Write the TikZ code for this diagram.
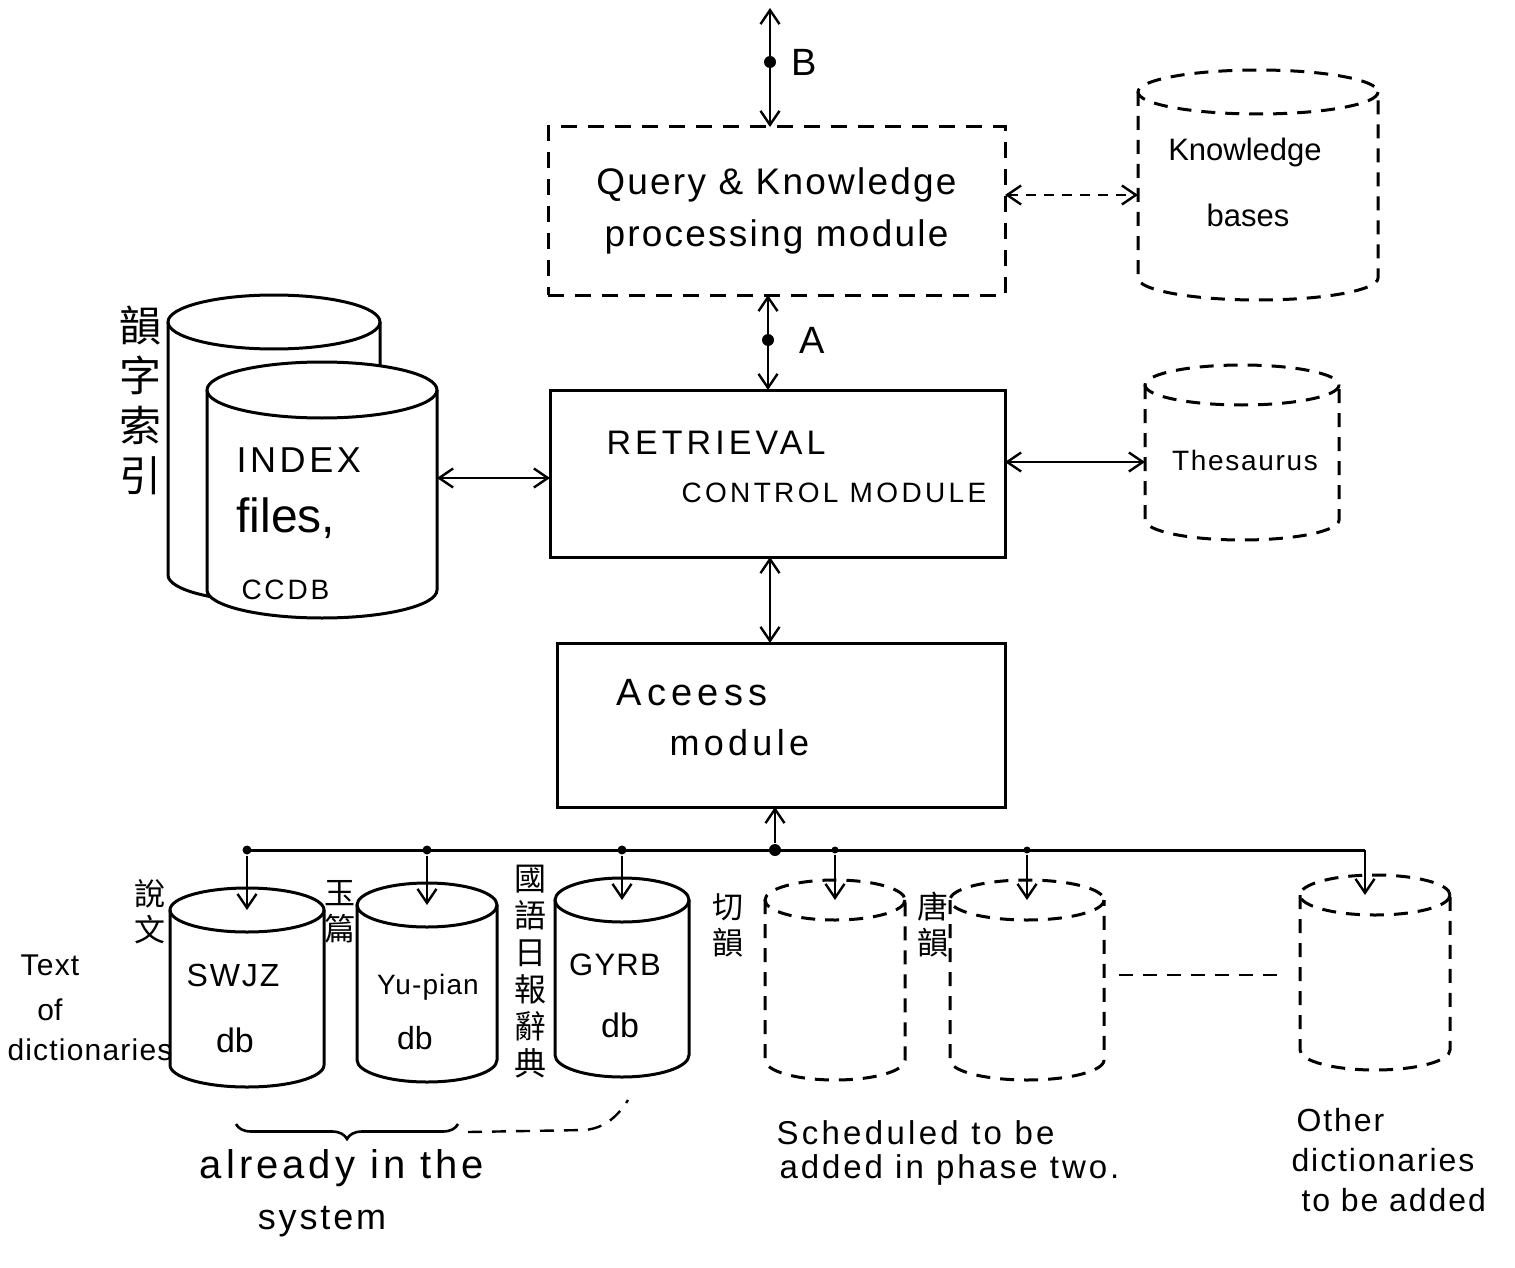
\documentclass[tikz,border=0pt]{standalone}
\usepackage{fontspec}
\setmainfont{Liberation Sans}
\newfontfamily\cjk{Noto Sans CJK TC}
\usetikzlibrary{arrows.meta,decorations.pathreplacing,calc}
% #1 name, #2 cx, #3 y of top ellipse centre, #4 y of bottom ellipse centre, #5 rx, #6 ry, #7 style
\newcommand\drum[7]{%
  \path[fill=white] (#2-#5,#3) -- (#2-#5,#4) arc[start angle=180,end angle=0,x radius=#5,y radius=#6]
     -- (#2+#5,#3) arc[start angle=0,end angle=-180,x radius=#5,y radius=#6] -- cycle;
  \draw[#7] (#2-#5,#3) -- (#2-#5,#4) arc[start angle=180,end angle=0,x radius=#5,y radius=#6] -- (#2+#5,#3);
  \draw[#7] (#2,#3) ellipse[x radius=#5,y radius=#6];
  \coordinate (#1-top) at (#2,#3);
  \node[inner sep=0pt,outer sep=0pt,minimum width={2*#5*1pt},minimum height={(#4-#3+2*#6)*1pt}] (#1) at (#2,{(#3+#4)/2}) {};
}
\begin{document}
\begin{tikzpicture}[x=1pt,y=-1pt,line width=3pt,
  >={Straight Barb[length=14pt,width=19pt]},
  solidbox/.style={draw,inner sep=0pt,outer sep=0pt},
  dashbox/.style={draw,dash pattern=on 16pt off 11pt,inner sep=0pt,outer sep=0pt},
  dsh/.style={dash pattern=on 14pt off 10pt},
  link/.style={line width=2.4pt,<->},
  fs/.style={font=\fontsize{#1}{#1}\selectfont,inner sep=0pt},
  vcjk/.style 2 args={font=\cjk\fontsize{#1}{#2}\selectfont,align=center,inner sep=0pt},
  dot/.style={circle,fill,inner sep=0pt,minimum size=12pt},
  smalldot/.style={circle,fill,inner sep=0pt,minimum size=9pt}]
\useasboundingbox[fill=white] (0,0) rectangle (1515,1268);

% ---------- upper modules ----------
\node[dashbox,minimum width=457pt,minimum height=168pt,align=center,
      font=\fontsize{37}{52}\selectfont\addfontfeature{LetterSpace=6}] (query) at (776.5,211)
      {Query \& Knowledge\\processing module};
\node[solidbox,minimum width=455pt,minimum height=167pt] (retrieval) at (777.5,473.5) {};
\node[fs=34,anchor=west] (rt1) at (605,443) {\addfontfeature{LetterSpace=12}RETRIEVAL};
\node[fs=28,anchor=west] (rt2) at (680,493) {\addfontfeature{LetterSpace=12}CONTROL MODULE};
\node[solidbox,minimum width=448pt,minimum height=164pt] (access) at (781,725) {};
\node[fs=38,anchor=west] (ac1) at (615,693) {\addfontfeature{LetterSpace=14}Aceess};
\node[fs=36,anchor=west] (ac2) at (668,743) {\addfontfeature{LetterSpace=12}module};

% ---------- cylinders ----------
\drum{kb}{1258}{92}{278}{120}{22}{dsh}
\node[fs=31] (kbt1) at (1245,152) {Knowledge};
\node[fs=31] (kbt2) at (1248,215) {bases};
\drum{thes}{1242}{385}{520}{97}{20}{dsh}
\node[fs=28] (thest) at (1245,460) {\addfontfeature{LetterSpace=6}Thesaurus};
\drum{idxback}{274}{322}{575}{106}{27}{}
\drum{idx}{322}{390}{590}{115}{28}{}
\node[fs=36,anchor=west] (ix1) at (235,460) {\addfontfeature{LetterSpace=10}INDEX};
\node[fs=48,anchor=west] (ix2) at (235,518) {files,};
\node[fs=28,anchor=west] (ix3) at (240,590) {\addfontfeature{LetterSpace=10}CCDB};
\node[vcjk={42}{50}] (cj0) at (140,400) {韻\\字\\索\\引};

\drum{swjz}{247}{910}{1065}{77}{22}{}
\node[fs=32] (sw1) at (233,975) {\addfontfeature{LetterSpace=6}SWJZ};
\node[fs=34] (sw2) at (235,1040) {db};
\drum{yupian}{427}{905}{1060}{70}{22}{}
\node[fs=28] (yp1) at (428,987) {\addfontfeature{LetterSpace=4}Yu-pian};
\node[fs=32] (yp2) at (415,1038) {db};
\drum{gyrb}{622}{900}{1055}{67}{22}{}
\node[fs=31] (gy1) at (615,965) {\addfontfeature{LetterSpace=4}GYRB};
\node[fs=34] (gy2) at (620,1025) {db};
\drum{qieyun}{835}{900}{1060}{70}{20}{dsh}
\drum{tangyun}{1027}{900}{1060}{77}{20}{dsh}
\drum{other}{1375}{895}{1050}{75}{20}{dsh}

\node[vcjk={31}{36}] (cj1) at (150,912) {說\\文};
\node[vcjk={31}{36}] (cj2) at (340,912) {玉\\篇};
\node[vcjk={32}{37}] (cj3) at (530,972) {國\\語\\日\\報\\辭\\典};
\node[vcjk={31}{36}] (cj4) at (728,925) {切\\韻};
\node[vcjk={31}{36}] (cj5) at (933,925) {唐\\韻};

% ---------- connectors ----------
\coordinate (Btop) at (770,8);
\draw[link] (Btop) -- (Btop |- query.north);
\node[dot] (bdot) at (770,62) {};
\node[fs=38,anchor=west] (blab) at (790,62) {B};

\node[dot] (adot) at (768,340) {};
\draw[link] (adot |- query.south) -- (adot |- retrieval.north);
\node[fs=38,anchor=west] (alab) at (798,340) {A};

\coordinate (ra) at (770,600);
\draw[link] (ra |- retrieval.south) -- (ra |- access.north);

\coordinate (irow) at (500,478);
\draw[link] (irow -| idx.east) -- (irow -| retrieval.west);
\coordinate (trow) at (1080,462);
\draw[link] (trow -| retrieval.east) -- (trow -| thes.west);
\coordinate (krow) at (1070,195);
\draw[link,dash pattern=on 10pt off 8pt] (krow -| query.east) -- (krow -| kb.west);

% bus
\coordinate (busL) at (245,850);
\coordinate (busR) at (1365,850);
\draw (busL) -- (busR);
\node[smalldot] (d1) at (swjz-top |- busL) {};
\node[smalldot] (d2) at (yupian-top |- busL) {};
\node[smalldot] (d3) at (gyrb-top |- busL) {};
\node[dot] (junc) at (775,850) {};
\node[smalldot,minimum size=7pt] (d4) at (qieyun-top |- busL) {};
\node[smalldot,minimum size=7pt] (d5) at (tangyun-top |- busL) {};
\draw[->,line width=2.4pt] (junc) -- (junc |- access.south);
\draw[->,line width=2.4pt] (d1) -- (swjz-top);
\draw[->,line width=2.4pt] (d2) -- (yupian-top);
\draw[->,line width=2.4pt] (d3) -- (gyrb-top);
\draw[->,line width=2.4pt] (d4) -- (qieyun-top);
\draw[->,line width=2.4pt] (d5) -- (tangyun-top);
\draw[->,line width=2.4pt] (busR) -- (busR |- other-top);

\draw[dsh,line width=2.4pt] (tangyun.east |- 0,975) ++(15,0) -- (1280,975);

% ---------- notes ----------
\node[fs=30] (n1) at (50,965) {\addfontfeature{LetterSpace=4}Text};
\node[fs=30] (n2) at (50,1010) {of};
\node[fs=30] (n3) at (90,1050) {\addfontfeature{LetterSpace=4}dictionaries};

\draw[line width=2.6pt,decorate,decoration={brace,amplitude=15pt,mirror}] (236,1124) -- (458,1124);
\draw[dsh,line width=2.4pt] (468,1132) -- (585,1130) .. controls (605,1128) and (618,1116) .. (628,1100);
\node[fs=40] (al1) at (342,1168) {\addfontfeature{LetterSpace=10}already in the};
\node[fs=36] (al2) at (322,1222) {\addfontfeature{LetterSpace=8}system};

\node[fs=33,anchor=west] (sc1) at (775,1133) {\addfontfeature{LetterSpace=10}Scheduled to be};
\node[fs=33,anchor=west] (sc2) at (778,1170) {\addfontfeature{LetterSpace=9}added in phase two.};

\node[fs=32,anchor=west] (ot1) at (1295,1120) {\addfontfeature{LetterSpace=6}Other};
\node[fs=32,anchor=west] (ot2) at (1290,1160) {\addfontfeature{LetterSpace=6}dictionaries};
\node[fs=32,anchor=west] (ot3) at (1300,1200) {\addfontfeature{LetterSpace=6}to be added};
\end{tikzpicture}
\end{document}
